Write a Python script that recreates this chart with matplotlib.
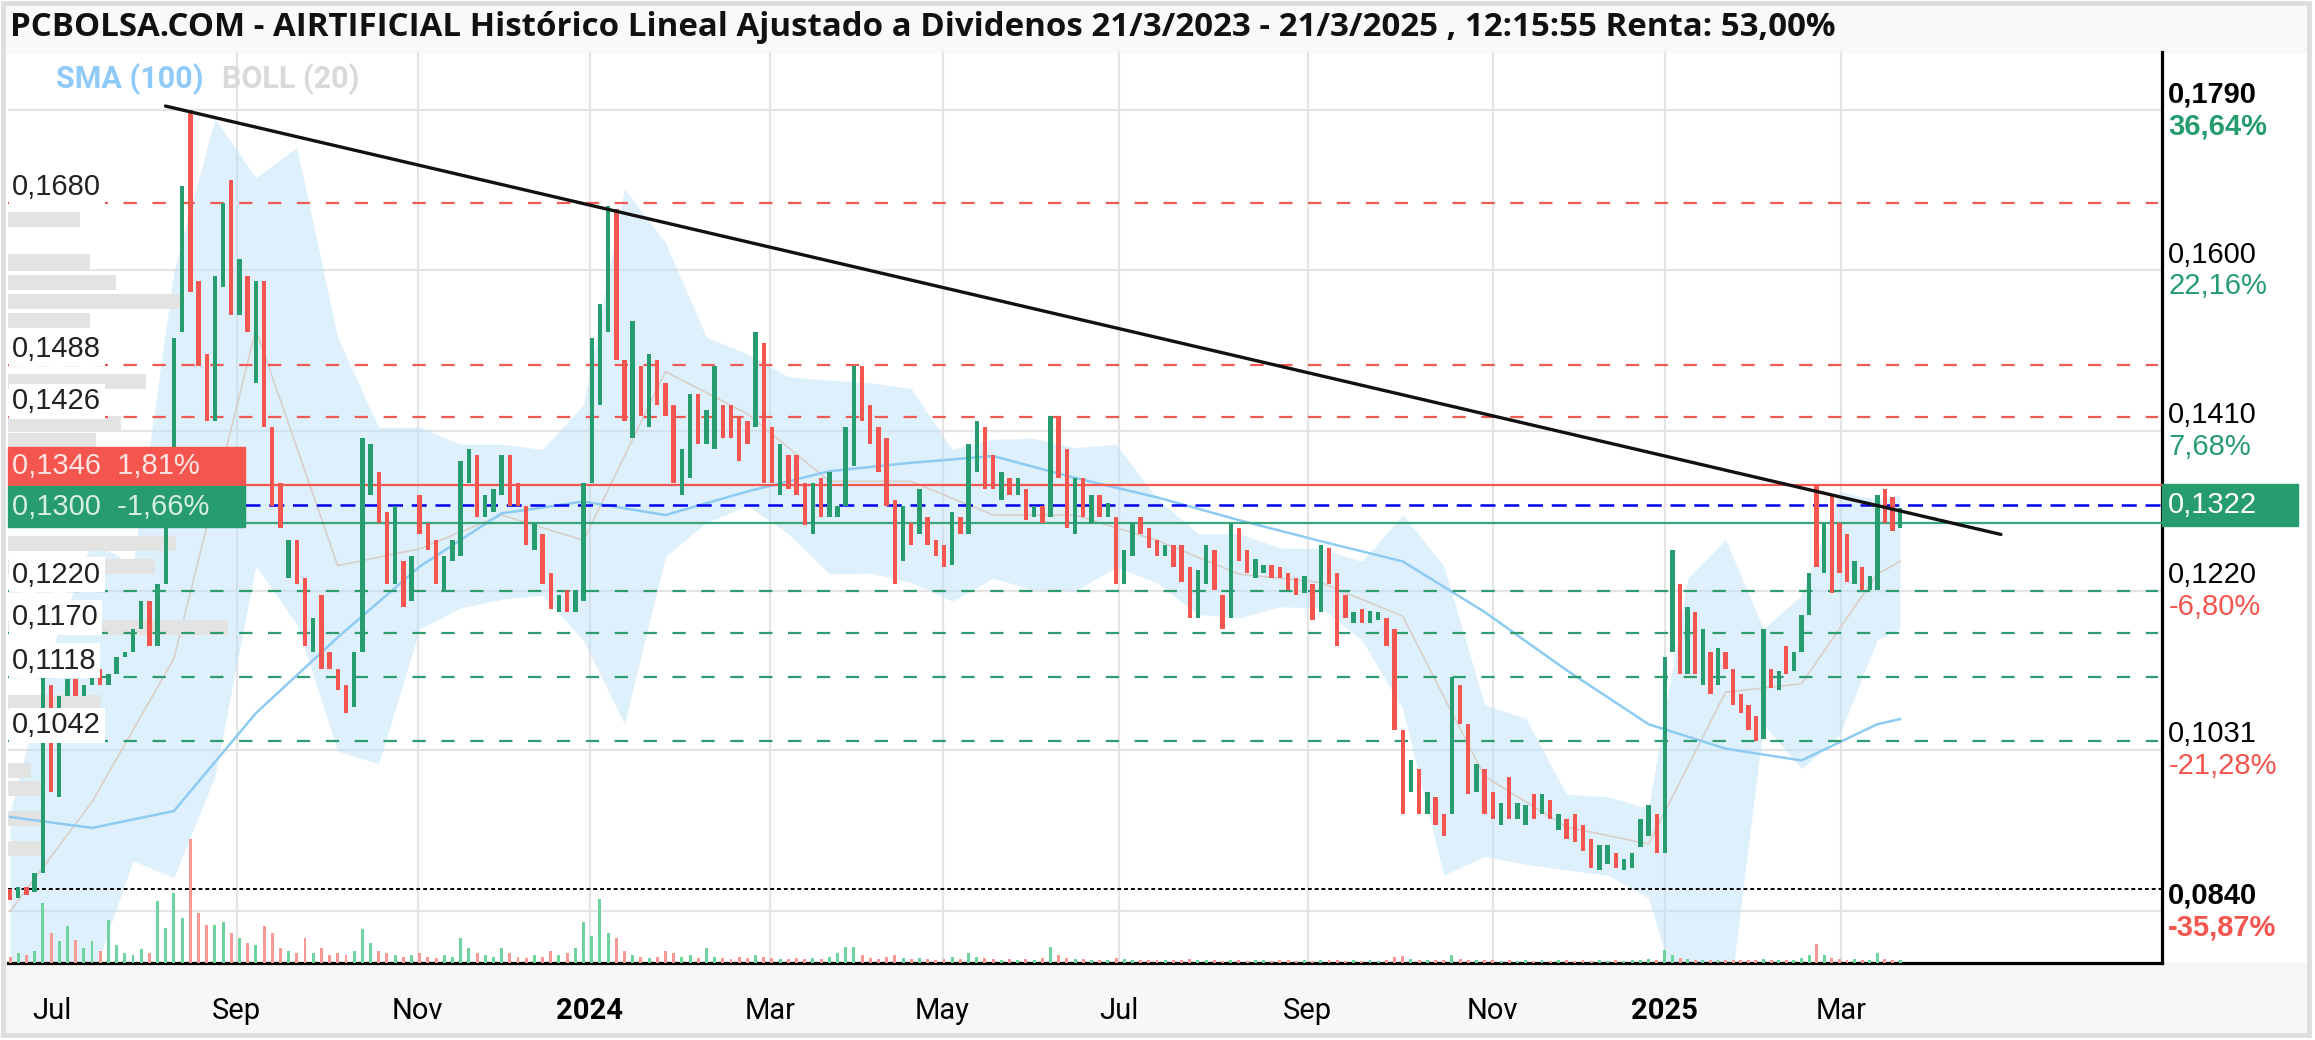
import numpy as np
import pandas as pd
import matplotlib
matplotlib.use('Agg')
import matplotlib.pyplot as plt
from matplotlib.patches import Rectangle
from matplotlib.transforms import blended_transform_factory
from matplotlib import font_manager

# ---- data (bars every ~2 trading days) ----
opens = [
    0.0866, 0.0856, 0.0869, 0.0863, 0.0886, 0.1108, 0.0976, 0.1095, 0.1115, 0.1095,
    0.1108, 0.1128, 0.1108, 0.1122, 0.1142, 0.1148, 0.1175, 0.1208, 0.1155, 0.1228,
    0.1295, 0.1527, 0.1790, 0.1587, 0.1501, 0.1421, 0.1580, 0.1707, 0.1547, 0.1594,
    0.1467, 0.1587, 0.1414, 0.1348, 0.1235, 0.1281, 0.1235, 0.1148, 0.1215, 0.1148,
    0.1128, 0.1108, 0.1082, 0.1148, 0.1334, 0.1361, 0.1314, 0.1228, 0.1255, 0.1208,
    0.1334, 0.1301, 0.1281, 0.1221, 0.1255, 0.1261, 0.1348, 0.1381, 0.1308, 0.1314,
    0.1334, 0.1381, 0.1348, 0.1321, 0.1268, 0.1288, 0.1241, 0.1195, 0.1221, 0.1195,
    0.1208, 0.1348, 0.1441, 0.1527, 0.1673, 0.1494, 0.1401, 0.1487, 0.1414, 0.1494,
    0.1467, 0.1441, 0.1334, 0.1354, 0.1454, 0.1394, 0.1388, 0.1441, 0.1441, 0.1427,
    0.1421, 0.1414, 0.1514, 0.1414, 0.1334, 0.1381, 0.1381, 0.1348, 0.1288, 0.1354,
    0.1308, 0.1308, 0.1321, 0.1368, 0.1487, 0.1441, 0.1414, 0.1401, 0.1328, 0.1255,
    0.1301, 0.1288, 0.1308, 0.1281, 0.1274, 0.1251, 0.1308, 0.1288, 0.1361, 0.1414,
    0.1381, 0.1328, 0.1354, 0.1334, 0.1341, 0.1308, 0.1321, 0.1308, 0.1427, 0.1388,
    0.1288, 0.1354, 0.1301, 0.1334, 0.1308, 0.1308, 0.1228, 0.1261, 0.1308, 0.1295,
    0.1281, 0.1261, 0.1274, 0.1274, 0.1248, 0.1188, 0.1228, 0.1268, 0.1215, 0.1188,
    0.1295, 0.1268, 0.1235, 0.1241, 0.1251, 0.1248, 0.1241, 0.1235, 0.1218, 0.1228,
    0.1195, 0.1271, 0.1241, 0.1215, 0.1182, 0.1198, 0.1182, 0.1185, 0.1188, 0.1175,
    0.1055, 0.0982, 0.1009, 0.0956, 0.0976, 0.0956, 0.0956, 0.1108, 0.1062, 0.0982,
    0.1009, 0.0982, 0.0942, 0.0999, 0.0949, 0.0942, 0.0979, 0.0956, 0.0972, 0.0936,
    0.0949, 0.0956, 0.0942, 0.0926, 0.0889, 0.0896, 0.0909, 0.0889, 0.0892, 0.0916,
    0.0929, 0.0956, 0.0909, 0.1148, 0.1228, 0.1122, 0.1195, 0.1108, 0.1148, 0.1108,
    0.1148, 0.1128, 0.1098, 0.1085, 0.1072, 0.1045, 0.1128, 0.1102, 0.1155, 0.1125,
    0.1148, 0.1192, 0.1344, 0.1241, 0.1334, 0.1301, 0.1288, 0.1228, 0.1248, 0.1221,
    0.1221, 0.1341, 0.1331, 0.1295]
closes = [
    0.0853, 0.0869, 0.0859, 0.0886, 0.1118, 0.0982, 0.1095, 0.1115, 0.1095, 0.1108,
    0.1128, 0.1108, 0.1122, 0.1142, 0.1148, 0.1175, 0.1208, 0.1155, 0.1228, 0.1295,
    0.1520, 0.1700, 0.1574, 0.1487, 0.1421, 0.1594, 0.1680, 0.1547, 0.1614, 0.1527,
    0.1587, 0.1414, 0.1321, 0.1295, 0.1281, 0.1228, 0.1155, 0.1188, 0.1128, 0.1128,
    0.1102, 0.1075, 0.1148, 0.1401, 0.1394, 0.1301, 0.1228, 0.1321, 0.1201, 0.1261,
    0.1288, 0.1268, 0.1228, 0.1261, 0.1281, 0.1374, 0.1388, 0.1308, 0.1334, 0.1341,
    0.1381, 0.1321, 0.1321, 0.1274, 0.1301, 0.1228, 0.1198, 0.1215, 0.1195, 0.1221,
    0.1348, 0.1520, 0.1560, 0.1677, 0.1494, 0.1421, 0.1540, 0.1427, 0.1501, 0.1441,
    0.1427, 0.1348, 0.1388, 0.1454, 0.1394, 0.1434, 0.1487, 0.1401, 0.1401, 0.1374,
    0.1394, 0.1527, 0.1348, 0.1348, 0.1394, 0.1341, 0.1334, 0.1298, 0.1348, 0.1308,
    0.1361, 0.1321, 0.1414, 0.1487, 0.1421, 0.1394, 0.1361, 0.1321, 0.1228, 0.1321,
    0.1274, 0.1341, 0.1274, 0.1261, 0.1248, 0.1314, 0.1288, 0.1394, 0.1421, 0.1341,
    0.1341, 0.1361, 0.1334, 0.1354, 0.1304, 0.1321, 0.1301, 0.1427, 0.1354, 0.1295,
    0.1354, 0.1308, 0.1334, 0.1308, 0.1324, 0.1228, 0.1268, 0.1301, 0.1288, 0.1271,
    0.1261, 0.1274, 0.1248, 0.1231, 0.1188, 0.1245, 0.1274, 0.1221, 0.1175, 0.1301,
    0.1255, 0.1241, 0.1258, 0.1251, 0.1235, 0.1235, 0.1221, 0.1215, 0.1238, 0.1185,
    0.1274, 0.1228, 0.1155, 0.1188, 0.1195, 0.1182, 0.1196, 0.1195, 0.1155, 0.1055,
    0.0956, 0.1019, 0.0956, 0.0982, 0.0942, 0.0929, 0.1118, 0.1062, 0.0979, 0.1015,
    0.0956, 0.0949, 0.0969, 0.0949, 0.0969, 0.0966, 0.0949, 0.0979, 0.0949, 0.0956,
    0.0926, 0.0922, 0.0912, 0.0892, 0.0919, 0.0919, 0.0892, 0.0902, 0.0909, 0.0949,
    0.0966, 0.0909, 0.1142, 0.1268, 0.1122, 0.1201, 0.1122, 0.1175, 0.1098, 0.1152,
    0.1128, 0.1085, 0.1075, 0.1055, 0.1042, 0.1175, 0.1105, 0.1125, 0.1122, 0.1148,
    0.1192, 0.1241, 0.1248, 0.1301, 0.1218, 0.1241, 0.1231, 0.1255, 0.1221, 0.1238,
    0.1334, 0.1301, 0.1291, 0.1318]
volumes = [
    6, 10, 8, 12, 60, 30, 22, 37, 23, 15,
    22, 12, 43, 18, 10, 8, 14, 10, 62, 35,
    70, 45, 124, 50, 38, 38, 41, 30, 25, 20,
    18, 37, 30, 15, 12, 10, 25, 10, 15, 8,
    10, 8, 12, 34, 20, 12, 10, 8, 6, 8,
    10, 6, 5, 8, 6, 25, 15, 10, 8, 6,
    15, 10, 6, 5, 8, 6, 12, 8, 10, 15,
    41, 27, 64, 30, 25, 12, 8, 6, 5, 6,
    12, 10, 6, 8, 5, 15, 6, 5, 4, 6,
    5, 8, 6, 5, 4, 4, 5, 4, 5, 4,
    6, 10, 16, 16, 8, 5, 4, 6, 8, 5,
    4, 5, 4, 3, 4, 6, 4, 10, 6, 5,
    4, 3, 4, 3, 4, 3, 5, 16, 8, 5,
    4, 4, 3, 3, 3, 5, 4, 3, 3, 3,
    3, 3, 3, 3, 4, 3, 3, 3, 2, 3,
    3, 2, 3, 3, 2, 3, 3, 2, 3, 2,
    3, 3, 3, 2, 3, 2, 3, 2, 3, 6,
    7, 4, 3, 3, 3, 3, 8, 4, 3, 3,
    3, 3, 2, 3, 2, 3, 2, 3, 2, 3,
    3, 2, 3, 2, 3, 2, 3, 2, 3, 3,
    4, 3, 13, 8, 5, 4, 3, 3, 3, 3,
    3, 3, 3, 3, 3, 4, 3, 3, 3, 3,
    5, 8, 19, 8, 5, 4, 3, 4, 3, 3,
    10, 4, 3, 3]
# SMA(100), every 10th bar plus the last bar
sma100 = [0.0952, 0.0939, 0.0959, 0.1075, 0.1165, 0.1249, 0.1312, 0.1326, 0.1310, 0.1338,
          0.1362, 0.1372, 0.1380, 0.1354, 0.1331, 0.1304, 0.1279, 0.1255, 0.1195, 0.1126,
          0.1062, 0.1033, 0.1019, 0.1062, 0.1068]
# Bollinger(20) bands, every 5th bar plus the last bar
boll_up = [0.0957, 0.1148, 0.128, 0.125, 0.160, 0.178, 0.171, 0.1746, 0.152, 0.1414,
           0.1414, 0.1394, 0.1394, 0.1388, 0.1441, 0.1697, 0.1633, 0.1521, 0.1501, 0.1474,
           0.147, 0.1467, 0.146, 0.1388, 0.140, 0.1401, 0.139, 0.1394, 0.133, 0.1288,
           0.1288, 0.1271, 0.127, 0.1255, 0.131, 0.125, 0.1085, 0.1069, 0.0979, 0.0976,
           0.0962, 0.1235, 0.1281, 0.1175, 0.1215, 0.1338, 0.1328, 0.1334]
boll_low = [0.070, 0.070, 0.076, 0.090, 0.088, 0.100, 0.125, 0.118, 0.103, 0.1015,
            0.1175, 0.120, 0.121, 0.1215, 0.1161, 0.1062, 0.1261, 0.1301, 0.1321, 0.1288,
            0.124, 0.1241, 0.123, 0.1208, 0.1235, 0.1221, 0.122, 0.1248, 0.123, 0.1192,
            0.1188, 0.1201, 0.120, 0.1162, 0.108, 0.0883, 0.0905, 0.0896, 0.0889, 0.0883,
            0.0856, 0.070, 0.070, 0.1062, 0.1009, 0.1049, 0.1162, 0.1175]
# Bollinger middle line, every 10th bar plus the last bar
boll_mid = [0.084, 0.097, 0.114, 0.153, 0.125, 0.127, 0.131, 0.128, 0.148, 0.143,
            0.135, 0.135, 0.131, 0.131, 0.128, 0.124, 0.123, 0.119, 0.100, 0.094,
            0.092, 0.110, 0.111, 0.124, 0.1255]

# volume-by-price profile (left)
profile_prices = [0.1660, 0.1610, 0.1586, 0.1563, 0.1541, 0.1468, 0.1419, 0.1398,
                  0.1276, 0.1249, 0.1177, 0.1088, 0.1007, 0.0986, 0.0950, 0.0915]
profile_sizes = [72, 82, 108, 173, 82, 138, 113, 88, 168, 147, 220, 93, 23, 37, 37, 37]

res_levels = [0.1680, 0.1488, 0.1426]
sup_levels = [0.1220, 0.1170, 0.1118, 0.1042]
last_price = 0.1322
box_high, box_low = 0.1346, 0.1300
period_min = 0.0866

tick_vals = [0.1790, 0.1600, 0.1410, 0.1220, 0.1031, 0.0840]
tick_txt = ['0,1790', '0,1600', '0,1410', '0,1220', '0,1031', '0,0840']
tick_pct = ['36,64%', '22,16%', '7,68%', '-6,80%', '-21,28%', '-35,87%']

month_dates = ['2023-07-01', '2023-09-01', '2023-11-01', '2024-01-01', '2024-03-01',
               '2024-05-01', '2024-07-01', '2024-09-01', '2024-11-01', '2025-01-01',
               '2025-03-01']
month_labels = ['Jul', 'Sep', 'Nov', '2024', 'Mar', 'May', 'Jul', 'Sep', 'Nov', '2025', 'Mar']

trend_dates = ['2023-08-09', '2025-04-28']
trend_prices = [0.1795, 0.1287]

# sessions of a few known bars (first bar, the 2 Jan 2025 jump, last bar)
anchor_bars = [0, 202, len(opens) - 1]
anchor_dates = ['2023-06-19', '2025-01-02', '2025-03-21']
market_holidays = ['2023-12-25', '2023-12-26', '2024-01-01', '2024-03-29', '2024-04-01',
                   '2024-05-01', '2024-12-25', '2024-12-26', '2025-01-01', '2025-04-18',
                   '2025-04-21', '2025-05-01']

title = ('PCBOLSA.COM - AIRTIFICIAL Histórico Lineal Ajustado a Dividenos '
         '21/3/2023 - 21/3/2025 , 12:15:55 Renta: 53,00%')

GREEN = '#279c6f'
RED = '#f4554e'

names = {f.name for f in font_manager.fontManager.ttflist}
NARROW = 'Liberation Sans Narrow' if 'Liberation Sans Narrow' in names else 'Roboto'
ARIAL = 'Liberation Sans'

# trading-day calendar: the x axis counts sessions, not calendar days
tdays = pd.bdate_range(anchor_dates[0], '2025-06-30')
tdays = tdays[~tdays.isin(pd.to_datetime(market_holidays))]
anchor_pos = tdays.get_indexer(pd.to_datetime(anchor_dates))
n = len(opens)
pos = np.interp(np.arange(n), anchor_bars, anchor_pos)
pos5 = pos[list(range(0, n, 5)) + [n - 1]]
pos10 = pos[list(range(0, n, 10)) + [n - 1]]

W, H = 2315, 1040
fig = plt.figure(figsize=(W / 100, H / 100), dpi=100)
fig.patch.set_facecolor('white')

# backgrounds and outer frame
fig.patches.append(Rectangle((5 / W, 1 - 52 / H), 2303 / W, 47 / H, transform=fig.transFigure,
                             color='#f9f9f9', zorder=-2))
fig.patches.append(Rectangle((5 / W, 8 / H), 2303 / W, 69 / H, transform=fig.transFigure,
                             color='#f7f7f7', zorder=-2))
fig.patches.append(Rectangle((3 / W, 5 / H), 2306 / W, 1032 / H, transform=fig.transFigure,
                             fill=False, edgecolor='#dedede', lw=3.5, zorder=-1))

ax = fig.add_axes([8 / W, 77 / H, 2154 / W, 911 / H])
ax.set_facecolor('none')
xlim = (-0.5, -0.5 + 2154 / 4.2)
ax.set_xlim(*xlim)
ax.set_ylim(0.07788, 0.18591)

o = np.array(opens)
c = np.array(closes)
month_pos = tdays.searchsorted(pd.to_datetime(month_dates))

# grid (no line for the first, partial month)
for v in tick_vals:
    ax.axhline(v, color='#e4e4e4', lw=1.6, zorder=0)
for p in month_pos[1:]:
    ax.axvline(p, color='#e4e4e4', lw=1.6, zorder=0)

# bollinger band, middle and SMA
ax.fill_between(pos5, boll_low, boll_up, color='#bfe2fa', alpha=0.5, lw=0, zorder=1)
ax.plot(pos10, boll_mid, color='#d9cfc9', lw=1.2, zorder=2)
ax.plot(pos10, sma100, color='#8ecbf3', lw=1.8, zorder=3)

# volume profile
yax = blended_transform_factory(ax.transAxes, ax.transData)
ax.barh(profile_prices, np.array(profile_sizes) / 2154, height=0.0018, left=0,
        color='#e3e3e3', transform=yax, zorder=2)

# level lines
for lv in res_levels:
    ax.axhline(lv, xmax=2150 / 2154, color='#f05a55', lw=1.6, ls=(0, (6, 7)), zorder=4)
for lv in sup_levels:
    ax.axhline(lv, xmax=2150 / 2154, color='#2e9c6e', lw=1.6, ls=(0, (6, 7)), zorder=4)
ax.axhline(period_min, color='black', lw=1.4, ls=(0, (2, 1.5)), zorder=4)
ax.axhline(box_high, xmin=237 / 2154, color='#f4554e', lw=1.6, zorder=4)
ax.axhline(box_low, xmin=237 / 2154, color='#3aa57a', lw=1.6, zorder=4)
ax.axhline(last_price, xmin=237 / 2154, color='#0000ee', lw=1.8, ls=(0, (6, 3.5)), zorder=4)

# candles
cols = np.where(c >= o, GREEN, RED)
ax.bar(pos, np.maximum(np.abs(c - o), 0.0004), bottom=np.minimum(o, c), width=1.05,
       color=cols, zorder=5)

# trend line
trend_pos = tdays.searchsorted(pd.to_datetime(trend_dates))
ax.plot(trend_pos, trend_prices, color='#111111', lw=2.4, zorder=6, solid_capstyle='round')

# volume
axv = ax.twinx()
axv.set_ylim(0, 911)
vcols = np.where(c >= o, '#6fd39f', '#f79a94')
axv.bar(pos, volumes, width=0.7, color=vcols, zorder=2)
axv.set_xlim(*xlim)
axv.axis('off')

# spines
for s in ['left', 'top']:
    ax.spines[s].set_visible(False)
for s in ['bottom', 'right']:
    ax.spines[s].set_color('black')
    ax.spines[s].set_linewidth(2.3)
ax.set_xticks([])
ax.set_yticks([])

# left level labels
for lv in res_levels + sup_levels:
    ax.annotate(f'{lv:.4f}'.replace('.', ','), xy=(0, lv), xycoords=yax,
                xytext=(3, 11.5), textcoords='offset points', va='center', ha='left',
                fontsize=21, family=ARIAL, color='#222222', zorder=8,
                bbox=dict(boxstyle='square,pad=0.12', fc='white', ec='none'))

# left price boxes
ax.add_patch(Rectangle((0, 0.13444), 237 / 2154, 0.1391 - 0.13444, transform=yax,
                       color='#f4554e', zorder=8, clip_on=False))
ax.add_patch(Rectangle((0, 0.12958), 237 / 2154, 0.13444 - 0.12958, transform=yax,
                       color=GREEN, zorder=8, clip_on=False))
ax.text(4 / 2154, 0.13677, '0,1346  1,81%', transform=yax, va='center', ha='left',
        fontsize=21, family=ARIAL, color='#fde4e2', zorder=9)
ax.text(4 / 2154, 0.13201, '0,1300  -1,66%', transform=yax, va='center', ha='left',
        fontsize=21, family=ARIAL, color='#d6efe4', zorder=9)

# right labels
for v, t, p in zip(tick_vals, tick_txt, tick_pct):
    bold = t in ('0,1790', '0,0840')
    pc = '#279c6f' if not p.startswith('-') else '#f4554e'
    ax.annotate(t, xy=(1, v), xycoords=yax, xytext=(4.5, 11.5), textcoords='offset points',
                va='center', ha='left', fontsize=21, family=ARIAL,
                fontweight='bold' if bold else 'normal', color='black', annotation_clip=False)
    ax.annotate(p, xy=(1, v), xycoords=yax, xytext=(4.5, -11.5), textcoords='offset points',
                va='center', ha='left', fontsize=21, family=ARIAL,
                fontweight='bold' if bold else 'normal', color=pc, annotation_clip=False)

# last price box on the right
ax.add_patch(Rectangle((1, last_price - 0.0025), 136 / 2154, 0.005, transform=yax,
                       color=GREEN, zorder=8, clip_on=False))
ax.annotate('0,1322', xy=(1, last_price), xycoords=yax, xytext=(4.5, 0),
            textcoords='offset points', va='center', ha='left', fontsize=21, family=ARIAL,
            color='white', annotation_clip=False, zorder=9)

# month labels
xax = blended_transform_factory(ax.transData, ax.transAxes)
for p, lab in zip(month_pos, month_labels):
    ax.text(p, -48 / 911, lab, transform=xax, ha='center', va='center',
            fontsize=21, family=NARROW,
            fontweight='bold' if lab.isdigit() else 'normal', color='black')

# title and legend
fig.text(10 / W, 1 - 27 / H, title, ha='left', va='center', fontsize=23.8,
         family='Open Sans', fontweight='bold', color='#111111')
fig.text(56 / W, 1 - 79 / H, 'SMA (100)', ha='left', va='center', fontsize=22,
         family=NARROW, fontweight='bold', color='#90caf9')
fig.text(222 / W, 1 - 79 / H, 'BOLL (20)', ha='left', va='center', fontsize=22,
         family=NARROW, fontweight='bold', color='#d9d9d9')

fig.savefig('out.png', dpi=100)
